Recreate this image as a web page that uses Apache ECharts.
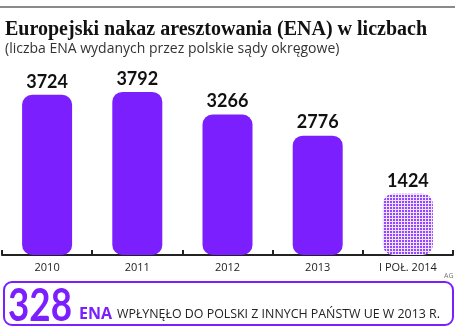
<!DOCTYPE html>
<html>
<head>
<meta charset="utf-8">
<title>ENA</title>
<script src="https://cdn.jsdelivr.net/npm/echarts@6/dist/echarts.min.js"></script>
</head>
<body style="margin:0;background:#fff;">
<div id="main" style="width:458px;height:330px;"></div>
<script>
  var categories = ['2010', '2011', '2012', '2013', 'I POŁ. 2014'];
  var values = [3724, 3792, 3266, 2776, 1424];
  var incoming = '328';

  // wzor kropek dla ostatniego slupka
  var pat = document.createElement('canvas');
  pat.width = 3; pat.height = 3;
  var pc = pat.getContext('2d');
  pc.fillStyle = '#efe4ff';
  pc.fillRect(0, 0, 3, 3);
  pc.fillStyle = '#9447ff';
  pc.fillRect(0, 0, 2, 2);

  var purple = '#7b1fff';

  var data = values.map(function (v, i) {
    var item = { value: v };
    if (i === values.length - 1) {
      item.itemStyle = { color: { image: pat, repeat: 'repeat' } };
    }
    return item;
  });

  var myChart = echarts.init(document.getElementById('main'));
  var option = {
    animation: false,
    title: {
      text: 'Europejski nakaz aresztowania (ENA) w liczbach',
      subtext: '(liczba ENA wydanych przez polskie sądy okręgowe)',
      left: 0,
      top: 15,
      itemGap: 2,
      textStyle: {
        fontFamily: 'Liberation Serif',
        fontWeight: 'bold',
        fontSize: 20,
        color: '#111'
      },
      subtextStyle: {
        fontFamily: 'Open Sans',
        fontSize: 14,
        color: '#333'
      }
    },
    grid: { left: 2, right: 5, top: 40, bottom: 75 },
    xAxis: {
      type: 'category',
      data: categories,
      axisLine: { lineStyle: { color: '#222', width: 2 } },
      axisTick: { show: true, inside: true, length: 5, lineStyle: { color: '#222', width: 2 } },
      axisLabel: { color: '#222', fontSize: 11, fontFamily: 'Open Sans', margin: 7 }
    },
    yAxis: {
      type: 'value',
      min: 0,
      max: 5000,
      show: false
    },
    series: [{
      type: 'bar',
      data: data,
      barWidth: 50,
      z: 1,
      itemStyle: { color: purple, borderRadius: 10 },
      label: {
        show: true,
        position: 'top',
        distance: 4,
        color: '#111',
        fontFamily: 'Lato',
        fontWeight: 'bold',
        fontSize: 18
      }
    }],
    graphic: [
      {
        type: 'rect',
        shape: { x: 0, y: 6, width: 455, height: 2 },
        style: { fill: '#8a8a8a' }
      },
      {
        type: 'text',
        left: 444, top: 272,
        style: { text: 'AG', fontSize: 7, fill: '#777', fontFamily: 'Open Sans' }
      },
      {
        type: 'rect',
        shape: { x: 4, y: 282, width: 449, height: 43, r: 8 },
        style: { fill: 'none', stroke: purple, lineWidth: 2 }
      },
      {
        type: 'text',
        x: 8, y: 306,
        scaleX: 0.8,
        style: {
          text: incoming, fontSize: 46, fontWeight: 'bold', fontFamily: 'Lato',
          fill: purple, verticalAlign: 'middle'
        }
      },
      {
        type: 'text',
        x: 79, y: 314,
        style: {
          text: 'ENA', fontSize: 16, fontWeight: 'bold', fontFamily: 'Open Sans',
          fill: purple, verticalAlign: 'middle'
        }
      },
      {
        type: 'text',
        x: 117, y: 314,
        style: {
          text: 'WPŁYNĘŁO DO POLSKI Z INNYCH PAŃSTW UE W 2013 R.', fontSize: 12.4,
          fontFamily: 'Open Sans', fill: '#222', verticalAlign: 'middle'
        }
      }
    ]
  };
  myChart.setOption(option);
</script>
</body>
</html>
